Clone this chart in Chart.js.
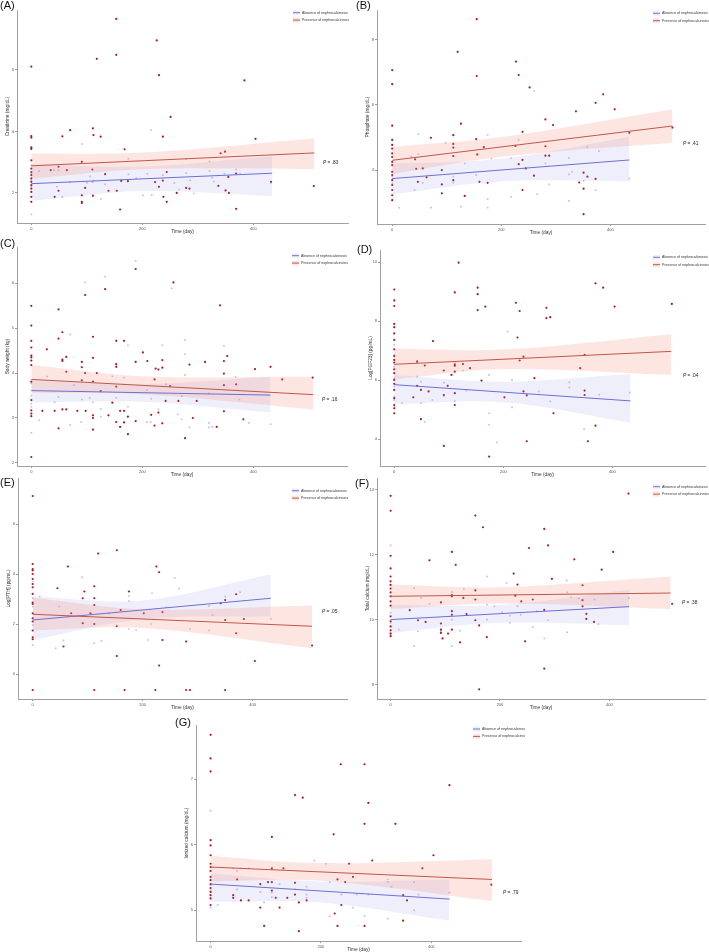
<!DOCTYPE html>
<html>
<head>
<meta charset="utf-8">
<script src="https://cdn.jsdelivr.net/npm/chart.js@4.4.0/dist/chart.umd.min.js"></script>
<style>
  body { margin: 0; background: #fff; }
  #page { position: relative; width: 709px; height: 952px; overflow: hidden; font-family: Arial, "Liberation Sans", sans-serif; }
  .panel { position: absolute; }
  .tag { position: absolute; font-size: 11px; color: #111; }
</style>
</head>
<body>
<div id="page"></div>
<script>
// ---- data: [day, value] pairs ----
const xTicks = [0, 200, 400];

// (A) Creatinine
const creatPresence = [[0,6.11],[153,7.66],[226,6.96],[153,6.49],[118,6.36],[230,5.83],[384,5.66],[251,4.47],[70,4.04],[111,4.10],[112,3.88],[125,3.83],[56,3.84],[0,3.85],[0,3.80],[0,3.48],[0,3.43],[237,3.83],[404,3.76],[168,3.42],[341,3.29],[349,3.34],[91,3.01],[0,3.06],[0,2.79],[0,2.68],[0,2.58],[0,2.47],[0,2.36],[0,2.25],[0,2.14],[0,2.03],[0,1.87],[0,1.71],[160,1.46],[369,1.48],[509,2.22],[244,1.71],[91,1.71],[91,1.67],[154,2.07],[162,2.39],[110,2.76],[64,2.74],[35,2.74],[49,2.85],[133,2.61],[174,2.38],[223,2.35],[237,2.40],[244,2.68],[230,2.20],[139,2.07],[91,1.92],[111,1.91],[49,2.07],[42,1.87],[238,1.87],[262,2.00],[279,2.16],[285,2.14],[356,2.00],[350,2.08],[355,2.52],[369,2.63],[432,2.36],[337,2.23],[97,2.16]];
const creatAbsence = [[91,3.59],[216,4.04],[175,3.11],[321,3.02],[279,3.10],[14,2.71],[41,2.74],[49,2.74],[106,2.54],[175,2.60],[209,2.62],[237,2.58],[279,2.64],[321,2.71],[348,2.63],[376,2.63],[369,2.76],[189,2.47],[326,2.49],[70,2.35],[100,2.33],[112,2.40],[133,2.28],[258,2.32],[286,2.41],[329,2.37],[46,2.20],[56,1.87],[125,1.80],[201,1.92],[217,1.93],[266,2.11],[293,1.98],[432,2.33],[0,2.90],[0,2.63],[0,2.41],[0,2.20],[0,1.30],[110,2.35]];
const creatPresFit = [[0,2.88],[510,3.30]];
const creatPresBand = [[0,2.46,3.28],[200,2.77,3.31],[510,2.78,3.78]];
const creatAbsFit = [[0,2.30],[434,2.64]];
const creatAbsBand = [[0,1.74,2.93],[200,2.06,2.86],[434,1.90,3.20]];

// (B) Phosphate
const phosPresence = [[155,8.62],[120,7.62],[227,7.32],[155,6.88],[232,6.91],[252,6.53],[0,7.06],[0,6.63],[387,6.32],[373,6.06],[408,5.86],[337,5.80],[281,5.55],[295,5.38],[126,5.42],[0,5.36],[239,5.17],[71,4.99],[112,5.07],[154,4.95],[112,4.80],[112,4.69],[168,4.70],[226,4.74],[281,4.73],[0,4.92],[0,4.77],[0,4.66],[0,4.51],[0,4.40],[0,4.25],[0,4.15],[0,3.95],[0,3.85],[0,3.69],[0,3.54],[0,3.39],[0,3.23],[0,3.08],[42,4.33],[44,4.04],[56,4.05],[47,3.64],[63,3.78],[91,4.00],[91,3.56],[91,3.29],[112,3.69],[133,3.21],[160,3.64],[175,3.61],[156,4.48],[232,4.18],[239,4.31],[245,4.05],[260,3.83],[239,3.39],[281,4.44],[288,4.44],[351,3.92],[358,3.80],[373,3.73],[343,3.62],[351,3.43],[351,2.65],[435,5.14],[514,5.30],[112,4.43]];
const phosAbsence = [[260,6.42],[48,5.10],[175,5.08],[232,4.92],[98,4.84],[0,4.95],[0,4.41],[0,3.95],[0,3.80],[0,3.60],[0,3.10],[48,4.49],[133,4.20],[35,4.41],[182,4.35],[218,4.37],[281,4.20],[324,4.37],[379,4.58],[358,4.71],[330,3.95],[324,3.87],[154,3.85],[112,3.80],[112,3.62],[56,3.61],[41,3.39],[288,3.56],[266,3.26],[218,3.18],[175,3.11],[175,2.85],[126,2.88],[71,2.85],[13,2.85],[324,3.06],[351,3.67],[373,3.39],[435,3.74]];
const phosPresFit = [[0,4.30],[514,5.35]];
const phosPresBand = [[0,3.88,4.71],[200,4.41,5.01],[514,4.84,5.86]];
const phosAbsFit = [[0,3.74],[435,4.31]];
const phosAbsBand = [[0,3.26,4.20],[200,3.65,4.35],[435,3.66,5.02]];

// (C) Body weight
const weightPresence = [[188,6.32],[256,6.02],[133,5.87],[97,5.74],[340,5.51],[49,5.42],[0,5.50],[0,5.06],[56,4.91],[111,4.81],[49,4.77],[153,4.72],[167,4.72],[0,4.72],[0,4.57],[0,4.39],[0,4.35],[0,4.28],[0,4.18],[28,4.53],[111,4.34],[63,4.36],[56,4.30],[56,4.27],[91,4.25],[91,4.13],[153,4.20],[153,4.14],[188,4.25],[201,4.46],[209,4.27],[236,4.29],[285,4.19],[313,4.25],[347,4.27],[353,4.38],[403,4.09],[431,4.14],[452,3.86],[507,3.90],[224,4.10],[229,4.08],[236,4.12],[63,4.03],[97,4.00],[118,4.00],[91,3.84],[111,3.81],[125,3.60],[153,3.70],[222,3.86],[250,3.71],[265,3.38],[242,3.38],[298,3.38],[347,3.73],[369,3.75],[347,3.99],[0,3.81],[0,3.40],[0,3.17],[0,3.10],[0,3.04],[0,2.13],[20,3.16],[42,3.16],[56,3.19],[63,3.19],[83,3.16],[98,3.16],[111,3.06],[111,3.00],[111,2.74],[49,2.77],[139,3.06],[160,3.16],[167,3.16],[146,3.34],[153,2.91],[167,2.90],[160,2.80],[174,3.03],[174,2.64],[188,2.93],[216,3.07],[222,2.83],[229,3.12],[236,2.88],[277,2.55],[291,3.00],[334,2.80],[347,3.15],[382,2.97]];
const weightAbsence = [[188,6.50],[133,6.15],[97,6.02],[253,5.89],[70,4.86],[174,4.62],[236,4.62],[277,4.74],[277,4.42],[347,4.61],[28,3.92],[77,3.73],[0,3.77],[0,3.50],[0,3.32],[0,3.25],[0,2.67],[49,3.47],[42,3.35],[91,3.41],[105,3.45],[111,3.35],[146,3.93],[167,3.90],[153,3.45],[174,3.25],[125,3.20],[208,3.62],[216,3.43],[243,3.75],[271,3.49],[277,3.96],[320,3.55],[375,3.41],[368,3.91],[264,3.08],[271,2.97],[229,3.19],[215,2.91],[208,2.91],[90,2.91],[14,2.95],[70,2.84],[285,2.79],[320,2.89],[320,2.79],[326,2.80],[392,2.89],[431,2.86],[125,3.03],[174,2.64]];
const weightPresFit = [[0,3.86],[508,3.52]];
const weightPresBand = [[0,3.56,4.18],[200,3.53,3.93],[508,3.19,3.92]];
const weightAbsFit = [[0,3.61],[431,3.51]];
const weightAbsBand = [[0,3.35,3.85],[200,3.36,3.76],[431,3.12,3.92]];

// (D) Log FGF23
const fgfPresence = [[118,9.99],[0,9.08],[0,8.71],[0,8.52],[153,9.14],[153,8.92],[111,8.98],[153,8.38],[167,8.50],[223,8.63],[230,8.35],[279,8.46],[279,8.11],[286,8.14],[369,9.29],[383,9.14],[404,8.50],[509,8.59],[0,7.91],[0,7.80],[0,7.59],[0,7.37],[0,7.05],[0,6.82],[0,6.69],[0,6.60],[0,6.37],[0,6.24],[0,6.01],[0,5.88],[0,5.67],[0,5.39],[0,5.16],[0,5.05],[0,4.88],[71,7.33],[226,7.45],[237,6.80],[230,6.67],[111,6.54],[111,6.49],[126,6.55],[139,6.41],[56,6.50],[42,6.63],[341,6.41],[349,6.86],[111,6.29],[91,6.33],[105,6.18],[160,5.99],[257,6.07],[98,5.81],[42,5.81],[35,5.42],[49,5.67],[63,5.62],[91,5.50],[111,5.56],[111,5.16],[202,5.42],[237,5.62],[243,5.49],[292,4.88],[349,5.65],[349,5.50],[49,4.68],[369,4.46],[355,3.93],[243,3.93],[91,3.77],[174,3.41]];
const fgfAbsence = [[208,7.65],[0,7.20],[0,6.86],[0,6.46],[0,6.07],[0,5.79],[0,5.45],[0,5.33],[0,5.11],[42,6.66],[126,6.33],[174,6.18],[42,6.12],[216,6.01],[49,5.95],[91,5.92],[321,5.93],[321,5.75],[132,5.65],[265,5.62],[91,5.47],[70,5.33],[49,5.22],[14,5.22],[111,5.29],[286,5.28],[376,5.51],[432,5.58],[216,5.08],[174,4.88],[174,4.49],[56,4.59],[188,3.89],[348,4.34]];
const fgfPresFit = [[0,6.54],[508,6.98]];
const fgfPresBand = [[0,6.03,7.08],[200,6.38,7.04],[508,6.18,7.56]];
const fgfAbsFit = [[0,5.85],[433,5.30]];
const fgfAbsBand = [[0,5.19,6.18],[200,5.25,5.95],[433,4.56,6.21]];

// (E) Log PTH
const pthPresence = [[0,7.13],[153,4.96],[119,4.83],[64,4.31],[225,4.31],[230,4.08],[0,4.41],[0,4.21],[0,4.15],[0,4.01],[0,3.81],[0,3.61],[0,3.48],[0,3.21],[0,2.87],[0,2.81],[0,2.44],[0,2.24],[0,2.11],[0,1.75],[0,1.48],[0,1.40],[45,3.44],[112,3.52],[94,3.31],[175,3.31],[91,3.04],[112,3.04],[112,2.77],[370,3.20],[350,2.97],[342,2.84],[70,2.44],[160,2.57],[236,2.49],[202,2.44],[105,2.44],[91,2.04],[112,2.01],[153,1.92],[350,2.17],[384,2.21],[236,1.37],[279,1.31],[56,1.11],[370,1.64],[153,0.73],[230,0.35],[404,0.53],[508,1.15],[0,-0.63],[112,-0.63],[167,-0.63],[223,-0.63],[279,-0.63],[286,-0.63],[350,-0.63]];
const pthAbsence = [[90,3.88],[258,3.84],[266,3.43],[217,3.24],[13,3.11],[175,3.13],[175,2.93],[350,3.11],[377,3.28],[48,2.71],[243,2.68],[321,2.73],[327,2.37],[433,2.21],[138,2.44],[215,2.01],[175,1.81],[188,1.77],[286,1.81],[321,1.75],[209,1.37],[125,1.33],[112,1.24],[56,1.35],[42,1.04],[0,3.71],[0,3.24],[0,3.04],[0,2.71],[0,1.97],[0,1.17],[91,2.05]];
const pthPresFit = [[0,2.40],[508,1.92]];
const pthPresBand = [[0,1.76,3.07],[200,1.85,2.60],[508,1.04,2.75]];
const pthAbsFit = [[0,2.17],[433,3.04]];
const pthAbsBand = [[0,1.37,3.11],[200,2.20,2.95],[433,2.31,4.00]];

// (F) Total calcium
const tcaPresence = [[0,13.82],[0,13.36],[155,13.21],[169,12.85],[281,12.80],[435,13.89],[112,12.09],[71,11.83],[119,11.69],[253,12.21],[288,12.29],[336,11.86],[407,12.09],[386,11.54],[225,11.42],[295,11.26],[232,11.08],[351,11.06],[155,10.90],[0,11.97],[0,11.58],[0,11.33],[0,11.18],[0,11.07],[0,10.96],[0,10.84],[0,10.72],[0,10.56],[0,10.43],[0,10.10],[0,9.95],[0,9.79],[0,9.67],[0,9.57],[0,9.49],[112,10.72],[112,10.76],[133,10.67],[155,10.62],[228,10.74],[239,10.56],[260,10.62],[351,10.60],[351,10.41],[358,10.18],[358,10.02],[515,10.49],[35,10.29],[92,10.53],[112,10.26],[112,10.15],[139,10.17],[155,9.98],[162,9.82],[176,9.46],[50,9.98],[64,9.93],[92,9.88],[92,9.69],[92,9.59],[105,9.57],[112,9.69],[127,9.30],[95,9.42],[246,9.33],[281,10.30],[281,8.49],[162,7.85],[372,9.93]];
const tcaAbsence = [[0,12.29],[176,11.33],[212,11.13],[322,11.21],[43,10.97],[134,10.95],[112,10.85],[56,10.67],[71,10.49],[176,10.46],[190,10.41],[204,10.23],[232,10.41],[238,10.15],[267,10.26],[323,10.84],[330,10.69],[344,10.65],[373,10.62],[436,10.66],[176,10.00],[218,10.12],[218,9.90],[260,9.77],[288,9.98],[380,9.86],[323,9.61],[281,9.42],[15,9.69],[50,9.64],[92,9.63],[112,9.18],[43,9.18],[0,10.21],[0,9.90],[0,9.79],[0,9.59],[0,9.54],[127,9.66],[112,10.00]];
const tcaPresFit = [[0,10.72],[512,10.82]];
const tcaPresBand = [[0,10.33,11.08],[200,10.50,11.00],[512,10.33,11.33]];
const tcaAbsFit = [[0,10.00],[436,10.40]];
const tcaAbsBand = [[0,9.59,10.46],[200,9.90,10.45],[436,9.83,10.92]];

// (G) Ionized calcium
const icaPresence = [[0,7.68],[0,7.32],[0,7.12],[236,7.23],[279,7.23],[433,6.91],[153,6.76],[167,6.72],[286,6.64],[279,6.32],[335,6.32],[223,6.16],[111,6.12],[0,6.07],[0,5.99],[0,5.84],[0,5.71],[0,5.66],[0,5.60],[0,5.51],[0,5.46],[0,5.40],[0,5.34],[0,5.28],[0,5.23],[0,5.18],[0,5.08],[404,5.84],[293,5.76],[251,5.71],[384,5.64],[111,5.64],[132,5.64],[48,5.47],[104,5.43],[111,5.43],[111,5.30],[90,5.40],[230,5.47],[244,5.43],[153,5.42],[258,5.51],[153,5.24],[41,5.23],[41,5.19],[55,5.15],[69,5.15],[118,5.19],[139,5.19],[160,5.12],[174,5.15],[90,5.04],[125,5.04],[237,5.08],[349,5.23],[356,5.15],[509,5.39],[97,4.76],[160,4.68],[230,4.76],[279,4.76],[225,4.95],[349,4.84]];
const icaAbsence = [[0,6.52],[188,5.76],[209,5.71],[125,5.40],[54,5.64],[41,5.64],[48,5.60],[69,5.64],[48,5.32],[90,5.28],[111,5.27],[111,5.20],[174,5.36],[174,5.24],[174,5.19],[153,5.32],[97,5.12],[13,5.08],[0,5.38],[0,5.31],[0,5.18],[0,5.04],[216,5.43],[237,5.24],[265,5.24],[286,5.24],[321,5.47],[321,5.43],[328,5.36],[369,5.43],[377,5.24],[369,5.00],[258,5.04],[216,4.91],[279,4.91],[321,4.87],[433,5.27]];
const icaPresFit = [[0,5.66],[510,5.47]];
const icaPresBand = [[0,5.44,5.83],[200,5.45,5.72],[510,5.14,5.78]];
const icaAbsFit = [[0,5.40],[433,5.17]];
const icaAbsBand = [[0,5.13,5.56],[200,5.12,5.44],[433,4.84,5.47]];

// ---- colours ----
const RED_PT = '#a31b24';
const BLUE_PT = '#c0c1ed';
const RED_LINE = '#c0564b';
const BLUE_LINE = '#6e6ed2';
const RED_BAND = 'rgba(247,140,120,0.22)';
const BLUE_BAND = 'rgba(140,140,235,0.14)';

// legend + P value drawn inside the plot
const notesPlugin = {
  id: 'notes',
  afterDraw(chart, args, opts) {
    const ctx = chart.ctx;
    ctx.save();
    const items = [
      ['Absence of nephrocalcinosis', BLUE_LINE, BLUE_BAND],
      ['Presence of nephrocalcinosis', RED_LINE, RED_BAND]
    ];
    ctx.textBaseline = 'middle';
    items.forEach((it, i) => {
      const x = opts.legend[0], y = opts.legend[1] + i * 7.4;
      ctx.fillStyle = it[2];
      ctx.fillRect(x, y - 2.5, 7, 5);
      ctx.strokeStyle = it[1];
      ctx.lineWidth = 1;
      ctx.beginPath();
      ctx.moveTo(x, y);
      ctx.lineTo(x + 7, y);
      ctx.stroke();
      ctx.fillStyle = '#333';
      ctx.font = '3.6px Arial';
      ctx.fillText(it[0], x + 9, y);
    });
    ctx.fillStyle = '#222';
    ctx.font = 'italic 4.8px Arial';
    ctx.fillText('P', opts.p[0], opts.p[1]);
    const w = ctx.measureText('P').width;
    ctx.font = '4.8px Arial';
    ctx.fillText(' = ' + opts.p[2], opts.p[0] + w, opts.p[1]);
    ctx.restore();
  }
};

const panels = [
  { tag: '(A)', tagPos: [0, -1], left: 0, top: 0, width: 352, axisX: 17, right: 348, plotTop: 10, plotBottom: 223,
    xMin: -25.8, xMax: 570.6, yMin: 1.02, yMax: 7.95, yTicks: [2, 4, 6], yTitle: 'Creatinine (mg/dL)',
    pres: creatPresence, abs: creatAbsence, presFit: creatPresFit, presBand: creatPresBand, absFit: creatAbsFit, absBand: creatAbsBand,
    legend: [293, 12.7], p: [323, 163, '.83'] },
  { tag: '(B)', tagPos: [356, -1], left: 355, top: 0, width: 354, axisX: 377, right: 707, plotTop: 10, plotBottom: 224,
    xMin: -27.9, xMax: 573.7, yMin: 2.35, yMax: 8.9, yTicks: [4, 6, 8], yTitle: 'Phosphate (mg/dL)',
    pres: phosPresence, abs: phosAbsence, presFit: phosPresFit, presBand: phosPresBand, absFit: phosAbsFit, absBand: phosAbsBand,
    legend: [653, 13.3], p: [683, 144, '.41'] },
  { tag: '(C)', tagPos: [0, 237], left: 0, top: 237, width: 352, axisX: 17, right: 347, plotTop: 247, plotBottom: 466,
    xMin: -25.8, xMax: 568.8, yMin: 1.93, yMax: 6.81, yTicks: [2, 3, 4, 5, 6], yTitle: 'Body weight (kg)',
    pres: weightPresence, abs: weightAbsence, presFit: weightPresFit, presBand: weightPresBand, absFit: weightAbsFit, absBand: weightAbsBand,
    legend: [292, 255.7], p: [322, 400, '.16'] },
  { tag: '(D)', tagPos: [357, 243], left: 355, top: 237, width: 354, axisX: 380, right: 706, plotTop: 250, plotBottom: 466,
    xMin: -26.1, xMax: 569.8, yMin: 3.09, yMax: 10.42, yTicks: [4, 6, 8, 10], yTitle: 'Log[FGF23] (pg/mL)',
    pres: fgfPresence, abs: fgfAbsence, presFit: fgfPresFit, presBand: fgfPresBand, absFit: fgfAbsFit, absBand: fgfAbsBand,
    legend: [653, 257.3], p: [683, 376, '.04'] },
  { tag: '(E)', tagPos: [0, 476], left: 0, top: 472, width: 352, axisX: 18, right: 347, plotTop: 478, plotBottom: 699,
    xMin: -26.7, xMax: 571.5, yMin: -0.99, yMax: 7.85, yTicks: [0, 2, 4, 6], yTitle: 'Log[PTH] (pg/mL)',
    pres: pthPresence, abs: pthAbsence, presFit: pthPresFit, presBand: pthPresBand, absFit: pthAbsFit, absBand: pthAbsBand,
    legend: [292, 490.7], p: [322, 612, '.05'] },
  { tag: '(F)', tagPos: [355, 477], left: 355, top: 472, width: 354, axisX: 377, right: 707, plotTop: 478, plotBottom: 699,
    xMin: -24.9, xMax: 575, yMin: 7.55, yMax: 14.37, yTicks: [8, 10, 12, 14], yTitle: 'Total calcium (mg/dL)',
    pres: tcaPresence, abs: tcaAbsence, presFit: tcaPresFit, presBand: tcaPresBand, absFit: tcaAbsFit, absBand: tcaAbsBand,
    legend: [653, 486.7], p: [682, 603, '.38'] },
  { tag: '(G)', tagPos: [175, 716], left: 175, top: 707, width: 350, axisX: 196, right: 523, plotTop: 725, plotBottom: 941,
    xMin: -26.5, xMax: 562.7, yMin: 4.53, yMax: 7.83, yTicks: [5, 6, 7], yTitle: 'Ionized calcium (mg/dL)',
    pres: icaPresence, abs: icaAbsence, presFit: icaPresFit, presBand: icaPresBand, absFit: icaAbsFit, absBand: icaAbsBand,
    legend: [473, 729], p: [503, 893, '.79'] }
];

const page = document.getElementById('page');
const pts = arr => arr.map(d => ({ x: d[0], y: d[1] }));

function bandSets(band, color) {
  return [
    { data: band.map(d => ({ x: d[0], y: d[2] })), showLine: true, pointRadius: 0, borderWidth: 0,
      borderColor: 'rgba(0,0,0,0)', backgroundColor: color, fill: '+1', tension: 0.35 },
    { data: band.map(d => ({ x: d[0], y: d[1] })), showLine: true, pointRadius: 0, borderWidth: 0,
      borderColor: 'rgba(0,0,0,0)', fill: false, tension: 0.35 }
  ];
}

panels.forEach(p => {
  const height = p.plotBottom - p.top + 12;
  const div = document.createElement('div');
  div.className = 'panel';
  div.style.left = p.left + 'px';
  div.style.top = p.top + 'px';
  const canvas = document.createElement('canvas');
  canvas.width = p.width;
  canvas.height = height;
  div.appendChild(canvas);
  page.appendChild(div);

  const tag = document.createElement('div');
  tag.className = 'tag';
  tag.textContent = p.tag;
  tag.style.left = p.tagPos[0] + 'px';
  tag.style.top = p.tagPos[1] + 'px';
  page.appendChild(tag);

  const redBand = bandSets(p.presBand, RED_BAND);
  const blueBand = bandSets(p.absBand, BLUE_BAND);

  new Chart(canvas, {
    type: 'scatter',
    data: {
      datasets: [
        { data: pts(p.presFit), showLine: true, pointRadius: 0, borderColor: RED_LINE, borderWidth: 1 },
        { data: pts(p.absFit), showLine: true, pointRadius: 0, borderColor: BLUE_LINE, borderWidth: 1 },
        redBand[0], redBand[1],
        blueBand[0], blueBand[1],
        { data: pts(p.pres), pointRadius: 1.1, pointStyle: 'circle', backgroundColor: RED_PT, borderWidth: 0 },
        { data: pts(p.abs), pointRadius: 1.2, pointStyle: 'rect', backgroundColor: BLUE_PT, borderWidth: 0 }
      ]
    },
    options: {
      responsive: false,
      animation: false,
      devicePixelRatio: 1,
      layout: {
        padding: { left: p.axisX - p.left - 12, right: p.left + p.width - p.right, top: p.plotTop - p.top, bottom: 0 }
      },
      plugins: {
        legend: { display: false },
        tooltip: { enabled: false },
        notes: {
          legend: [p.legend[0] - p.left, p.legend[1] - p.top],
          p: [p.p[0] - p.left, p.p[1] - p.top, p.p[2]]
        }
      },
      scales: {
        x: {
          type: 'linear', min: p.xMin, max: p.xMax,
          afterBuildTicks: s => { s.ticks = xTicks.map(v => ({ value: v })); },
          afterFit: s => { s.height = 12; },
          grid: { drawOnChartArea: false, tickLength: 2, color: '#999' },
          border: { color: '#a0a0a0', width: 1 },
          ticks: { font: { size: 4, family: 'Arial' }, color: '#555', padding: 1, maxRotation: 0 },
          title: { display: true, text: 'Time (day)', font: { size: 4.8, family: 'Arial' }, color: '#333', padding: 0 }
        },
        y: {
          type: 'linear', min: p.yMin, max: p.yMax,
          afterBuildTicks: s => { s.ticks = p.yTicks.map(v => ({ value: v })); },
          afterFit: s => { s.width = 12; },
          grid: { drawOnChartArea: false, tickLength: 2, color: '#999' },
          border: { color: '#a0a0a0', width: 1 },
          ticks: { font: { size: 4, family: 'Arial' }, color: '#555', padding: 1 },
          title: { display: true, text: p.yTitle, font: { size: 4.8, family: 'Arial' }, color: '#333', padding: 0 }
        }
      }
    },
    plugins: [notesPlugin]
  });
});
</script>
</body>
</html>
